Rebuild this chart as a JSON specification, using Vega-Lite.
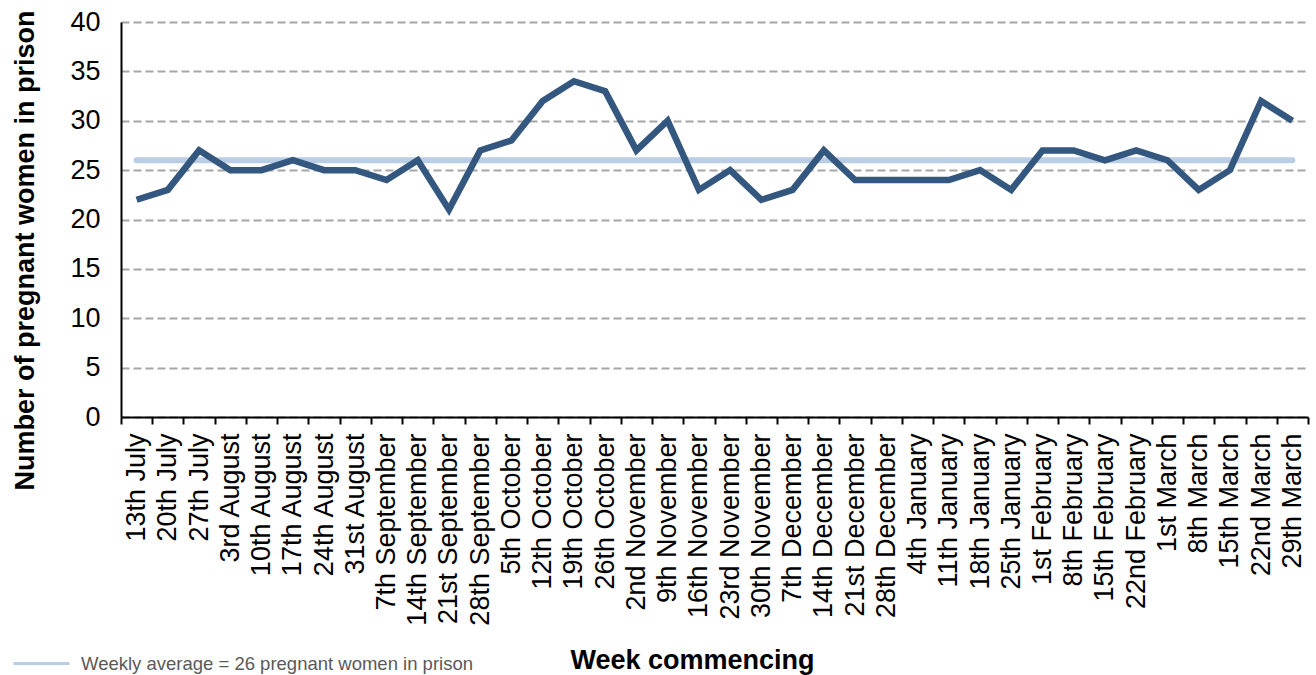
{
  "$schema": "https://vega.github.io/schema/vega-lite/v6.json",
  "autosize": {"type": "none"},
  "width": 1187,
  "height": 395,
  "padding": {"left": 121, "top": 22, "right": 8, "bottom": 258},
  "background": "white",
  "config": {
    "view": {"stroke": null},
    "font": "Liberation Sans"
  },
  "data": {
    "values": [
      {"week": "13th July", "value": 22},
      {"week": "20th July", "value": 23},
      {"week": "27th July", "value": 27},
      {"week": "3rd August", "value": 25},
      {"week": "10th August", "value": 25},
      {"week": "17th August", "value": 26},
      {"week": "24th August", "value": 25},
      {"week": "31st August", "value": 25},
      {"week": "7th September", "value": 24},
      {"week": "14th September", "value": 26},
      {"week": "21st September", "value": 21},
      {"week": "28th September", "value": 27},
      {"week": "5th October", "value": 28},
      {"week": "12th October", "value": 32},
      {"week": "19th October", "value": 34},
      {"week": "26th October", "value": 33},
      {"week": "2nd November", "value": 27},
      {"week": "9th November", "value": 30},
      {"week": "16th November", "value": 23},
      {"week": "23rd November", "value": 25},
      {"week": "30th November", "value": 22},
      {"week": "7th December", "value": 23},
      {"week": "14th December", "value": 27},
      {"week": "21st December", "value": 24},
      {"week": "28th December", "value": 24},
      {"week": "4th January", "value": 24},
      {"week": "11th January", "value": 24},
      {"week": "18th January", "value": 25},
      {"week": "25th January", "value": 23},
      {"week": "1st February", "value": 27},
      {"week": "8th February", "value": 27},
      {"week": "15th February", "value": 26},
      {"week": "22nd February", "value": 27},
      {"week": "1st March", "value": 26},
      {"week": "8th March", "value": 23},
      {"week": "15th March", "value": 25},
      {"week": "22nd March", "value": 32},
      {"week": "29th March", "value": 30}
    ]
  },
  "encoding": {
    "x": {
      "field": "week",
      "type": "ordinal",
      "sort": null,
      "bandPosition": 0.5,
      "scale": {"type": "band", "paddingInner": 0, "paddingOuter": 0},
      "axis": {
        "title": "Week commencing",
        "titleFontSize": 27,
        "titleFontWeight": "bold",
        "titleColor": "black",
        "titleX": 571,
        "titleY": 251,
        "titleAlign": "center",
        "titleBaseline": "alphabetic",
        "labelAngle": -90,
        "labelAlign": "right",
        "labelBaseline": "middle",
        "labelFontSize": 27,
        "labelColor": "black",
        "labelPadding": 9,
        "labelOverlap": false,
        "labelBound": false,
        "labelLimit": 400,
        "tickBand": "extent",
        "tickSize": 7,
        "tickColor": "black",
        "tickWidth": 2,
        "domainColor": "black",
        "domainWidth": 2,
        "grid": false
      }
    },
    "y": {
      "type": "quantitative",
      "scale": {"domain": [0, 40], "nice": false},
      "axis": {
        "title": "Number of pregnant women in prison",
        "titleFontSize": 27,
        "titleFontWeight": "bold",
        "titleColor": "black",
        "titleAngle": -90,
        "titleX": -88,
        "titleY": 228,
        "titleAlign": "center",
        "titleBaseline": "alphabetic",
        "titleLimit": 600,
        "values": [0, 5, 10, 15, 20, 25, 30, 35, 40],
        "labelFontSize": 27,
        "labelColor": "black",
        "labelPadding": 21,
        "ticks": false,
        "domainColor": "black",
        "domainWidth": 2,
        "grid": true,
        "gridColor": "#a6a6a6",
        "gridWidth": 2,
        "gridDash": [8, 4]
      }
    }
  },
  "layer": [
    {
      "mark": {"type": "line", "strokeWidth": 6, "strokeCap": "round"},
      "encoding": {
        "y": {"datum": 26},
        "color": {
          "datum": "Weekly average = 26 pregnant women in prison",
          "scale": {"range": ["#b9cde5"]},
          "legend": {
            "title": null,
            "orient": "none",
            "legendX": -109,
            "legendY": 612,
            "symbolType": "stroke",
            "symbolSize": 3136,
            "symbolStrokeWidth": 3,
            "symbolStrokeColor": "#8eaad8",
            "labelFontSize": 18.5,
            "labelColor": "#595959",
            "labelOffset": 10,
            "labelLimit": 600,
            "encode": {"symbols": {"update": {"stroke": {"value": "#8eaad8"}, "opacity": {"value": 1}}}}
          }
        }
      }
    },
    {
      "mark": {"type": "line", "strokeWidth": 6.5, "color": "#34577f", "strokeJoin": "miter"},
      "encoding": {
        "y": {"field": "value", "type": "quantitative"}
      }
    }
  ]
}
